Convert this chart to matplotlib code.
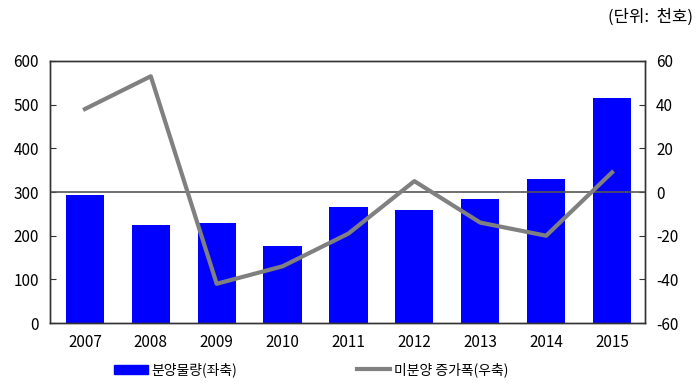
import matplotlib
matplotlib.use('Agg')
import matplotlib.pyplot as plt
from matplotlib.lines import Line2D
from matplotlib.patches import Patch

plt.rcParams['font.family'] = ['Noto Sans CJK KR', 'DejaVu Sans']
plt.rcParams['axes.unicode_minus'] = False

years = ['2007', '2008', '2009', '2010', '2011', '2012', '2013', '2014', '2015']
supply = [293, 224, 229, 176, 265, 260, 285, 330, 515]
unsold_change = [38, 53, -42, -34, -19, 5, -14, -20, 9]

fig = plt.figure(figsize=(7, 3.86), dpi=100)
ax = fig.add_axes([0.0714, 0.163, 0.85, 0.679])
x = range(len(years))
ax.bar(x, supply, width=0.58, color='#0000ff')
ax.set_ylim(0, 600)
ax.set_yticks(range(0, 601, 100))
ax.set_xlim(-0.53, 8.5)
ax.set_xticks(list(x))
ax.set_xticklabels(years)
ax.tick_params(axis='both', labelsize=11, direction='in', length=4, color='#333333')
ax.tick_params(axis='x', length=0, pad=8)
ax.tick_params(axis='y', pad=8)

ax2 = ax.twinx()
ax2.axhline(0, color='#555555', lw=1.2)
ax2.plot(list(x), unsold_change, color='#808080', lw=3)
ax2.set_ylim(-60, 60)
ax2.set_yticks(range(-60, 61, 20))
ax2.tick_params(axis='y', labelsize=11, direction='in', length=4, color='#333333', pad=8)
for a in (ax, ax2):
    for s in a.spines.values():
        s.set_color('#333333')
        s.set_linewidth(1)

handles = [Patch(color='#0000ff', label='분양물량(좌축)'),
           Line2D([0], [0], color='#808080', lw=3, label='미분양 증가폭(우축)')]
fig.legend(handles=handles, loc='lower center', bbox_to_anchor=(0.445, -0.01), ncol=2,
           frameon=False, fontsize=10, columnspacing=8.6, handlelength=2.4,
           handletextpad=0.3)
fig.text(0.99, 0.955, '(단위:  천호)', ha='right', va='center', fontsize=12)

plt.savefig('out.png', dpi=100)
